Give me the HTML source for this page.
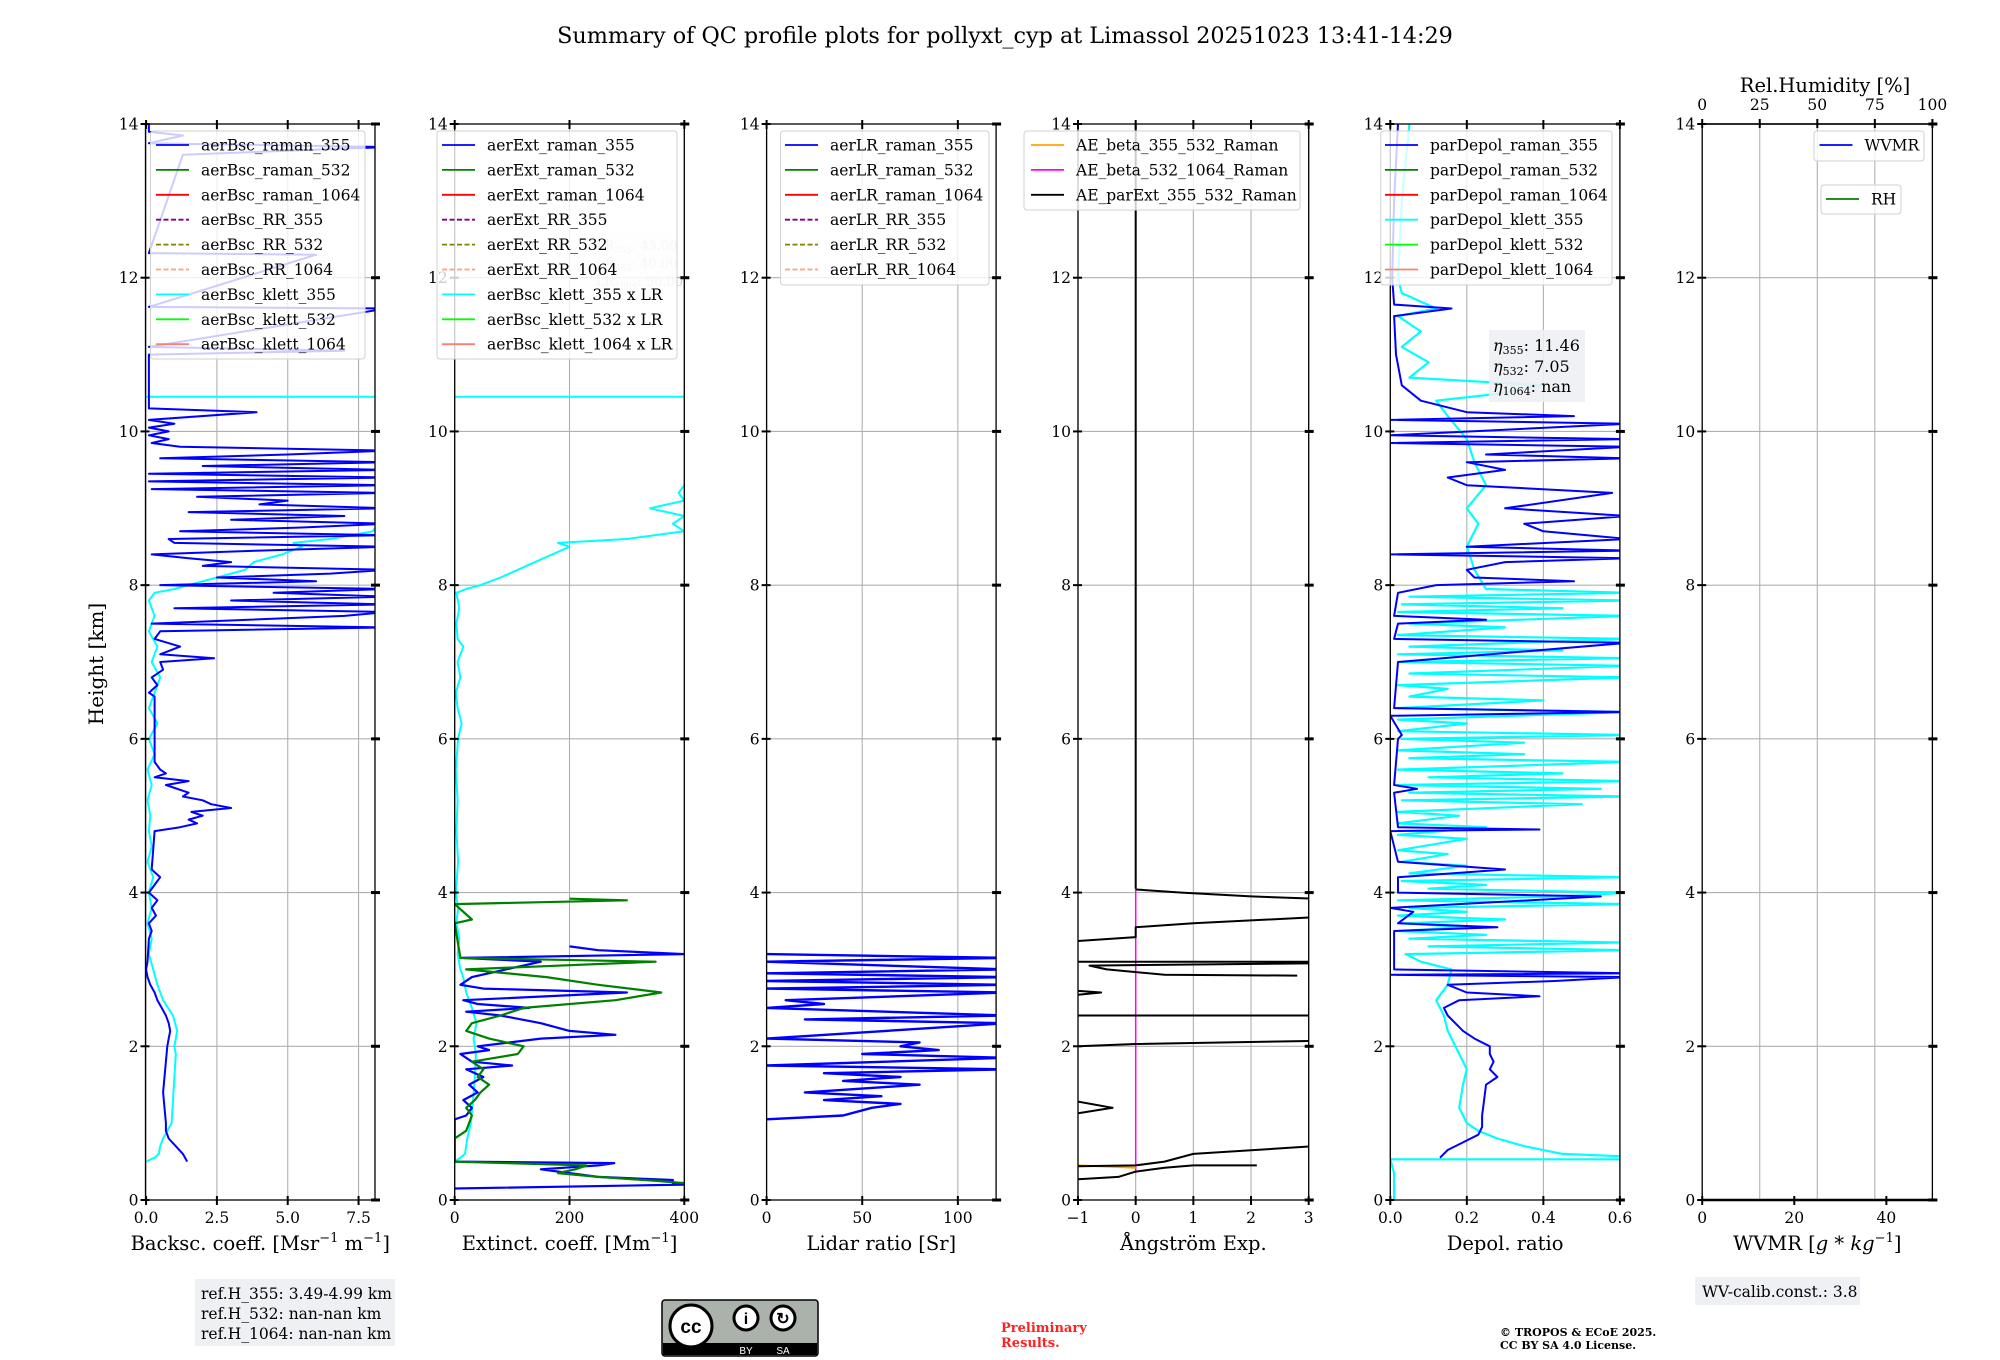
<!DOCTYPE html>
<html><head><meta charset="utf-8"><style>
html,body{margin:0;padding:0;background:#fff}
svg{display:block;font-family:"DejaVu Serif","Liberation Serif",serif}
</style></head><body>
<svg id="fig" width="2000" height="1360" viewBox="0 0 2000 1360" xmlns="http://www.w3.org/2000/svg">
<text x="1005" y="43" font-size="22.3" text-anchor="middle">Summary of QC profile plots for pollyxt_cyp at Limassol 20251023 13:41-14:29</text>
<text transform="translate(103,664) rotate(-90)" font-size="20" text-anchor="middle">Height [km]</text>
<g>
<rect x="195" y="1279" width="200" height="67" fill="#eef0f4"/>
<text x="201" y="1299" font-size="15.5">ref.H_355: 3.49-4.99 km</text>
<text x="201" y="1319" font-size="15.5">ref.H_532: nan-nan km</text>
<text x="201" y="1339" font-size="15.5">ref.H_1064: nan-nan km</text>
</g>
<g>
<rect x="662" y="1300" width="156" height="56" rx="3" fill="#aab2ab" stroke="#000" stroke-width="1.5"/>
<rect x="663" y="1343" width="154" height="12" fill="#000"/>
<circle cx="691" cy="1326" r="21" fill="#fff" stroke="#000" stroke-width="3"/>
<text x="691" y="1333" font-size="19" font-weight="bold" text-anchor="middle" font-family="Liberation Sans,sans-serif">cc</text>
<circle cx="746" cy="1318" r="12" fill="#fff" stroke="#000" stroke-width="3"/>
<circle cx="783" cy="1318" r="12" fill="#fff" stroke="#000" stroke-width="3"/>
<text x="746" y="1324" font-size="16" font-weight="bold" text-anchor="middle" font-family="Liberation Sans,sans-serif">i</text>
<text x="783" y="1324" font-size="16" font-weight="bold" text-anchor="middle" font-family="Liberation Sans,sans-serif">↻</text>
<text x="746" y="1354" font-size="10" fill="#fff" text-anchor="middle" font-family="Liberation Sans,sans-serif">BY</text>
<text x="783" y="1354" font-size="10" fill="#fff" text-anchor="middle" font-family="Liberation Sans,sans-serif">SA</text>
</g>
<g fill="#ff2020" font-size="13" font-weight="bold">
<text x="1001" y="1332">Preliminary</text><text x="1001" y="1347">Results.</text>
</g>
<g font-size="11" font-weight="bold">
<text x="1500" y="1336">© TROPOS &amp; ECoE 2025.</text><text x="1500" y="1349">CC BY SA 4.0 License.</text>
</g>
<g>
<rect x="1695" y="1277" width="165" height="28" fill="#eef0f4"/>
<text x="1702" y="1297" font-size="15.5">WV-calib.const.: 3.8</text>
</g>
</svg>
<script>
// ---------- data ----------
const heightTicks=[0,2,4,6,8,10,12,14];
const p1Ticks=[0,2.5,5,7.5]; const p1TickLabels=["0.0","2.5","5.0","7.5"];
const p2Ticks=[0,200,400]; const p2TickLabels=["0","200","400"];
const p3Ticks=[0,50,100]; const p3TickLabels=["0","50","100"];
const p4Ticks=[-1,0,1,2,3]; const p4TickLabels=["−1","0","1","2","3"];
const p5Ticks=[0,0.2,0.4,0.6]; const p5TickLabels=["0.0","0.2","0.4","0.6"];
const p6Ticks=[0,20,40]; const p6TickLabels=["0","20","40"];
const rhTicks=[0,25,50,75,100]; const rhTickLabels=["0","25","50","75","100"];

const bscR355H=[0.5,0.6,0.7,0.8,0.9,1.0,1.2,1.4,1.6,1.8,2.0,2.1,2.2,2.3,2.4,2.5,2.6,2.7,2.8,2.9,3.0,3.1,3.4,3.5,3.6,3.7,3.8,3.9,4.0,4.1,4.2,4.3,4.8,4.85,4.9,4.95,5.0,5.05,5.1,5.15,5.2,5.25,5.3,5.4,5.45,5.5,5.55,5.6,5.7,6.55,6.6,6.7,6.8,6.9,7.0,7.05,7.1,7.2,7.3,7.4,7.45,7.5,7.6,7.65,7.7,7.75,7.8,7.85,7.9,7.95,8.0,8.05,8.1,8.15,8.2,8.25,8.3,8.35,8.4,8.45,8.5,8.55,8.6,8.65,8.7,8.75,8.8,8.85,8.9,8.95,9.0,9.05,9.1,9.15,9.2,9.25,9.3,9.35,9.4,9.45,9.5,9.55,9.6,9.65,9.7,9.75,9.8,9.85,9.9,9.95,10.0,10.05,10.1,10.15,10.25,10.3,11.0,11.05,11.1,11.6,11.62,12.3,12.32,13.6,13.7,13.75,13.85,13.9,14.0];
const bscR355V=[1.45,1.3,1.05,0.8,0.7,0.7,0.65,0.6,0.65,0.7,0.75,0.8,0.85,0.8,0.7,0.55,0.4,0.3,0.15,0.05,0.0,0.05,0.1,0.2,0.1,0.35,0.2,0.4,0.1,0.3,0.5,0.2,0.3,1.2,1.8,1.5,2.0,1.6,3.0,2.3,2.0,1.3,1.5,0.7,1.5,0.3,0.7,0.5,0.3,0.3,0.1,0.4,0.2,0.6,0.5,2.4,0.5,1.2,0.3,0.5,8.5,0.2,7.0,8.5,1.0,8.5,3.0,8.5,4.5,8.5,0.5,6.0,2.5,6.5,8.5,2.0,3.0,1.5,0.2,4.0,8.5,1.0,0.8,8.5,1.2,5.5,8.5,3.0,7.0,1.5,8.5,4.0,5.0,1.8,8.5,0.2,8.5,0.1,8.5,0.1,8.5,2.0,8.5,0.5,5.0,8.5,1.2,0.2,0.8,0.1,0.8,0.1,1.0,0.1,3.9,0.1,0.1,7.0,0.1,8.5,0.1,6.0,0.1,1.3,8.5,0.1,1.3,0.1,0.1];
const bscK355H=[0.5,0.55,0.6,0.7,0.8,0.9,1.0,1.3,1.6,1.9,2.0,2.2,2.4,2.6,2.8,3.0,3.2,3.4,3.6,3.8,4.0,4.2,4.4,4.6,4.8,5.0,5.2,5.4,5.6,5.8,6.0,6.2,6.4,6.6,6.8,7.0,7.2,7.4,7.6,7.8,7.9,7.95,8.0,8.1,8.2,8.3,8.4,8.5,8.55,8.6,8.7,9.0,9.5,10.45,10.45];
const bscK355V=[0.0,0.3,0.45,0.5,0.6,0.75,0.9,0.95,1.0,1.05,1.0,1.1,0.95,0.6,0.4,0.25,0.1,0.2,0.05,0.2,0.1,0.25,0.05,0.2,0.1,0.15,0.05,0.2,0.05,0.3,0.1,0.4,0.1,0.3,0.5,0.2,0.4,0.1,0.3,0.1,0.3,1.0,1.5,2.5,3.5,3.8,4.8,5.5,5.2,6.5,8.0,8.6,8.6,9.0,-0.1];

const extKH=[0.5,0.55,0.6,0.8,1.0,1.3,1.6,1.9,2.1,2.3,2.5,2.7,2.9,3.0,3.2,3.4,3.6,3.8,4.0,4.4,4.8,5.2,5.6,6.0,6.2,6.4,6.6,6.8,7.0,7.2,7.3,7.5,7.7,7.9,7.95,8.0,8.1,8.2,8.3,8.4,8.5,8.55,8.6,8.7,8.8,8.9,9.0,9.1,9.2,9.3,9.4,10.45,10.45];
const extKV=[0,10,18,22,28,32,35,37,33,38,30,20,15,10,5,8,3,6,2,6,3,5,2,6,12,5,2,10,5,15,5,3,8,3,20,45,80,110,140,170,200,180,300,400,380,400,340,400,390,400,440,500,-10];
const extR355H=[0.15,0.2,0.22,0.26,0.3,0.35,0.4,0.45,0.48,0.5,1.05,1.1,1.2,1.3,1.4,1.5,1.6,1.7,1.75,1.8,1.9,1.95,2.0,2.1,2.15,2.2,2.3,2.4,2.45,2.5,2.55,2.6,2.7,2.75,2.8,2.9,3.1,3.15,3.2,3.25,3.3];
const extR355V=[0,400,380,380,250,200,150,250,278,0,0,20,30,15,40,25,50,20,100,30,10,60,40,150,280,200,150,80,20,130,40,15,300,50,10,30,150,10,400,250,200];
const extR532H=[0.2,0.22,0.25,0.3,0.35,0.4,0.45,0.5,0.8,0.9,1.0,1.1,1.2,1.3,1.4,1.5,1.6,1.7,1.8,1.9,2.0,2.1,2.2,2.3,2.4,2.5,2.6,2.7,2.8,2.9,3.0,3.1,3.15,3.6,3.65,3.85,3.9,3.92];
const extR532V=[400,400,350,250,180,210,230,0,0,20,25,30,20,35,45,60,40,50,30,110,120,60,20,30,80,120,280,360,250,160,20,350,10,0,30,0,300,200];

const lr355H=[1.05,1.1,1.2,1.25,1.3,1.35,1.4,1.45,1.5,1.55,1.6,1.65,1.7,1.75,1.85,1.9,1.95,2.0,2.05,2.1,2.3,2.35,2.4,2.5,2.55,2.6,2.7,2.75,2.8,2.85,2.9,2.95,3.0,3.1,3.15,3.2];
const lr355V=[0,40,55,70,30,60,20,50,80,40,70,30,125,0,125,50,90,70,80,0,125,20,125,0,30,10,125,0,125,0,125,0,125,0,125,0];

const aeExtH=[4.05,14,null,4.04,4.0,3.95,3.92,null,3.37,3.42,3.55,3.6,3.68,null,3.1,3.1,3.08,3.05,3.0,2.93,2.92,null,2.72,2.7,2.67,null,2.4,2.4,null,2.0,2.03,2.07,null,1.28,1.2,1.13,null,0.44,0.45,0.5,0.6,0.7,null,0.27,0.3,0.37,0.42,0.45,0.45];
const aeExtV=[0,0,null,0,0.8,2,3.1,null,-1,0,0,1,3.1,null,-1,3.1,3.1,-0.8,-0.5,0.5,2.8,null,-1,-0.6,-1,null,-1,3.1,null,-1,0,3.1,null,-1,-0.4,-1,null,-1,0,0.5,1,3.1,null,-1,-0.3,0,0.5,1,2.1];
const aeB532H=[0.35,4.05];
const aeB532V=[0,0];
const aeB355H=[0.45,0.42];
const aeB355V=[-1,0];

const dep355H=[0.55,0.65,0.75,0.85,0.95,1.1,1.3,1.5,1.6,1.7,1.8,1.9,2.0,2.1,2.2,2.4,2.5,2.6,2.65,2.7,2.8,2.85,2.9,2.93,2.95,3.0,3.5,3.55,3.6,3.75,3.8,3.95,4.0,4.2,4.3,4.4,4.8,4.82,4.85,5.3,5.35,5.4,6.0,6.05,6.3,6.35,6.4,7.0,7.25,7.3,7.5,7.55,7.6,7.9,8.0,8.05,8.1,8.2,8.3,8.35,8.4,8.45,8.5,8.6,8.7,8.8,8.9,9.0,9.2,9.3,9.4,9.5,9.6,9.65,9.7,9.8,9.85,9.9,9.95,10.1,10.15,10.2,10.25,10.4,10.6,11.0,11.5,11.6,11.65,12.0,13.0,14.0];
const dep355V=[0.13,0.15,0.19,0.23,0.24,0.24,0.245,0.25,0.28,0.26,0.27,0.26,0.26,0.22,0.19,0.15,0.14,0.18,0.39,0.2,0.15,0.43,0.62,0.0,0.62,0.01,0.01,0.28,0.02,0.06,0.0,0.55,0.02,0.02,0.3,0.02,0.0,0.39,0.02,0.01,0.07,0.01,0.02,0.03,0.0,0.62,0.01,0.02,0.62,0.01,0.02,0.25,0.01,0.02,0.12,0.48,0.22,0.2,0.3,0.62,0.0,0.62,0.2,0.62,0.4,0.35,0.62,0.3,0.58,0.2,0.15,0.3,0.2,0.62,0.25,0.62,0.0,0.62,0.0,0.62,0.0,0.48,0.2,0.08,0.03,0.015,0.01,0.16,0.01,0.005,0.01,0.02];
const depK355H=[0.0,0.35,0.53,0.53,0.57,0.6,0.7,0.8,0.9,1.0,1.2,1.5,1.7,2.0,2.2,2.4,2.6,2.8,3.0,3.1,3.2,3.25,3.3,3.35,3.4,3.45,3.5,3.55,3.6,3.65,3.7,3.75,3.8,3.85,3.9,3.95,4.0,4.05,4.1,4.15,4.2,4.25,4.35,4.4,4.5,4.55,4.7,4.75,4.85,4.9,5.0,5.05,5.15,5.2,5.25,5.3,5.35,5.4,5.45,5.5,5.55,5.6,5.7,5.75,5.8,5.85,5.95,6.0,6.05,6.1,6.2,6.25,6.35,6.4,6.5,6.55,6.65,6.7,6.8,6.85,6.95,7.0,7.05,7.1,7.15,7.2,7.3,7.35,7.45,7.5,7.6,7.65,7.7,7.75,7.8,7.85,7.9,7.95,8.2,8.5,8.8,9.0,9.3,9.6,9.9,10.2,10.4,10.5,10.6,10.7,10.9,11.1,11.3,11.5,11.6,11.8,12.0,13.0,14.0];
const depK355V=[0.01,0.01,0.0,0.62,0.6,0.45,0.35,0.28,0.23,0.2,0.18,0.19,0.2,0.17,0.15,0.14,0.12,0.15,0.16,0.08,0.04,0.62,0.1,0.6,0.05,0.25,0.02,0.2,0.03,0.3,0.02,0.2,0.05,0.62,0.02,0.45,0.62,0.1,0.25,0.03,0.62,0.05,0.2,0.03,0.15,0.02,0.2,0.02,0.25,0.02,0.18,0.02,0.5,0.03,0.62,0.05,0.55,0.02,0.62,0.1,0.45,0.02,0.62,0.05,0.35,0.02,0.35,0.03,0.62,0.02,0.2,0.02,0.62,0.02,0.4,0.05,0.15,0.02,0.62,0.05,0.62,0.03,0.62,0.02,0.45,0.05,0.62,0.02,0.3,0.05,0.62,0.02,0.45,0.03,0.62,0.05,0.62,0.25,0.22,0.2,0.23,0.2,0.25,0.22,0.2,0.15,0.12,0.3,0.4,0.05,0.1,0.03,0.08,0.02,0.12,0.03,0.02,0.03,0.05];

// ---------- layout ----------
const NS="http://www.w3.org/2000/svg";
const svg=document.getElementById('fig');
const Y0=1200, YTOP=124, HMAX=14;
const yOf=h=>Y0-(h/HMAX)*(Y0-YTOP);
const panels=[
 {x:145.5,w:229.5,min:-0.02,max:8.08,ticks:p1Ticks,labels:p1TickLabels},
 {x:454.7,w:229.6,min:0,max:400,ticks:p2Ticks,labels:p2TickLabels},
 {x:766.6,w:229.5,min:0,max:120,ticks:p3Ticks,labels:p3TickLabels},
 {x:1078,w:230.7,min:-1,max:3,ticks:p4Ticks,labels:p4TickLabels},
 {x:1390.3,w:229.6,min:0,max:0.6,ticks:p5Ticks,labels:p5TickLabels},
 {x:1702.2,w:230.2,min:0,max:50,ticks:p6Ticks,labels:p6TickLabels}
];
function mk(tag,attrs,parent){const e=document.createElementNS(NS,tag);for(const k in attrs)e.setAttribute(k,attrs[k]);(parent||svg).appendChild(e);return e;}
function xOf(p,v){return p.x+(v-p.min)/(p.max-p.min)*p.w;}

panels.forEach((p,i)=>{
 const g=mk('g',{});
 
 
 const cp=mk('clipPath',{id:'clip'+i},g);
 mk('rect',{x:p.x,y:YTOP,width:p.w,height:Y0-YTOP},cp);
 heightTicks.forEach(h=>{const l=mk('line',{x1:p.x,x2:p.x+p.w,y1:yOf(h),y2:yOf(h),stroke:'#b0b0b0','stroke-width':1.1},g);
  
  });
 const gx=(i===5)?rhTicks.map(v=>xOf({x:p.x,w:p.w,min:0,max:100},v)):p.ticks.map(v=>xOf(p,v));
 gx.forEach(x=>{const l=mk('line',{x1:x,x2:x,y1:YTOP,y2:Y0,stroke:'#b0b0b0','stroke-width':1.1},g);
  
  });
 p.g=mk('g',{'clip-path':'url(#clip'+i+')'},g);
 p.frame=g;
});

function series(pi,H,V,color,width,name){
 const p=panels[pi];let d='',pen=false;
 for(let k=0;k<H.length;k++){
  if(H[k]===null||V[k]===null){pen=false;continue;}
  d+=(pen?'L':'M')+xOf(p,V[k]).toFixed(1)+','+yOf(H[k]).toFixed(1);pen=true;
 }
 const e=mk('path',{d:d,fill:'none',stroke:color,'stroke-width':width,'stroke-linejoin':'round'},p.g);
 
 
}
series(0,bscK355H,bscK355V,'#00ffff',2,'aerbsc-klett-355-line');
series(0,bscR355H,bscR355V,'#0000ff',2,'aerbsc-raman-355-line');
series(1,extKH,extKV,'#00ffff',2,'aerbsc-klett-355-x-lr-line');
series(1,extR355H,extR355V,'#0000ff',2.2,'aerext-raman-355-line');
series(1,extR532H,extR532V,'#008000',2.2,'aerext-raman-532-line');
series(2,lr355H,lr355V,'#0000ff',2.4,'aerlr-raman-355-line');
series(3,aeB532H,aeB532V,'#ff00ff',1.5,'ae-beta-532-1064-line');
series(3,aeB355H,aeB355V,'#ffa500',2,'ae-beta-355-532-line');
series(3,aeExtH,aeExtV,'#000000',2,'ae-parext-355-532-line');
series(4,depK355H,depK355V,'#00ffff',2.2,'pardepol-klett-355-line');
series(4,dep355H,dep355V,'#0000ff',2,'pardepol-raman-355-line');

const xLabels=['Backsc. coeff. [Msr<tspan dy="-8" font-size="13">−1</tspan><tspan dy="8"> m</tspan><tspan dy="-8" font-size="13">−1</tspan><tspan dy="8">]</tspan>',
 'Extinct. coeff. [Mm<tspan dy="-8" font-size="13">−1</tspan><tspan dy="8">]</tspan>',
 'Lidar ratio [Sr]','Ångström Exp.','Depol. ratio',
 'WVMR [<tspan font-style="italic">g</tspan> * <tspan font-style="italic">kg</tspan><tspan dy="-8" font-size="13">−1</tspan><tspan dy="8">]</tspan>'];
const xNames=['backscatter-axis-title','extinction-axis-title','lidar-ratio-axis-title','angstrom-axis-title','depol-axis-title','wvmr-axis-title'];
panels.forEach((p,i)=>{
 const g=p.frame;
 const r=mk('rect',{x:p.x,y:YTOP,width:p.w,height:Y0-YTOP,fill:'none',stroke:'#000','stroke-width':1.3},g);
 
 
 heightTicks.forEach(h=>{
  const y=yOf(h);
  mk('line',{x1:p.x-5,x2:p.x+4,y1:y,y2:y,stroke:'#000','stroke-width':2},g);
  mk('line',{x1:p.x+p.w-4,x2:p.x+p.w+5,y1:y,y2:y,stroke:'#000','stroke-width':3},g);
  const t=mk('text',{x:p.x-7,y:y+5.5,'font-size':15.5,'text-anchor':'end'},g);
  t.textContent=h;
  
  
 });
 p.ticks.forEach((v,k)=>{
  const x=xOf(p,v);
  mk('line',{x1:x,x2:x,y1:Y0-4,y2:Y0+5,stroke:'#000','stroke-width':2},g);
  if(i<5) mk('line',{x1:x,x2:x,y1:YTOP-4,y2:YTOP+5,stroke:'#000','stroke-width':2},g);
  const t=mk('text',{x:x,y:Y0+23,'font-size':15.5,'text-anchor':'middle'},g);
  t.textContent=p.labels[k];
  
  
 });
 const lab=mk('text',{x:p.x+p.w/2,y:1250,'font-size':19.5,'text-anchor':'middle'},g);
 lab.innerHTML=xLabels[i];
 
 
});
{const p=panels[5];const q={x:p.x,w:p.w,min:0,max:100};
 mk('line',{x1:p.x,x2:p.x+p.w,y1:YTOP,y2:YTOP,stroke:'#000','stroke-width':1.5});
 mk('line',{x1:p.x,x2:p.x+p.w,y1:Y0,y2:Y0,stroke:'#000','stroke-width':2.5});
 rhTicks.forEach((v,k)=>{const x=xOf(q,v);
  mk('line',{x1:x,x2:x,y1:YTOP-5,y2:YTOP+4,stroke:'#000','stroke-width':2});
  const t=mk('text',{x:x,y:110,'font-size':15.5,'text-anchor':'middle'});
  t.textContent=rhTickLabels[k];
  
  });
 const t=mk('text',{x:1825,y:92,'font-size':19.5,'text-anchor':'middle'});
 t.textContent='Rel.Humidity [%]';
 
 
}
{const g=mk('g',{opacity:0.35,'font-size':13,fill:'#777'});
 
 
 mk('rect',{x:593,y:234,width:83,height:53,fill:'#eef0f4'},g);
 [['LR','355',': 45.00',250],['LR','532',': 40.00',268],['LR','1064',': 50.00',286]].forEach(a=>{
  const t=mk('text',{x:596,y:a[3]},g);t.innerHTML=a[0]+'<tspan font-size="9" dy="3">'+a[1]+'</tspan><tspan dy="-3">'+a[2]+'</tspan>';});
}
function legend(x,y,w,h,lx,labels,colors,dashes,name){
 const g=mk('g',{});
 
 
 mk('rect',{x:x,y:y,width:w,height:h,rx:3,fill:'rgba(255,255,255,0.8)',stroke:'#d0d0d0','stroke-width':1},g);
 labels.forEach((lb,k)=>{
  const yy=y+14+k*24.9;
  const l=mk('line',{x1:lx,x2:lx+33,y1:yy,y2:yy,stroke:colors[k],'stroke-width':1.8},g);
  if(dashes[k]) l.setAttribute('stroke-dasharray','5,2.5');
  const t=mk('text',{x:lx+45,y:yy+5.5,'font-size':15.5},g);
  t.textContent=lb;
  
  
 });
}
const cols9=['#0000ff','#008000','#ff0000','#800080','#808000','#ffa07a','#00ffff','#00ff00','#fa8072'];
const dash9=[0,0,0,1,1,1,0,0,0];
legend(150.5,131,214.5,228,156,['aerBsc_raman_355','aerBsc_raman_532','aerBsc_raman_1064','aerBsc_RR_355','aerBsc_RR_532','aerBsc_RR_1064','aerBsc_klett_355','aerBsc_klett_532','aerBsc_klett_1064'],cols9,dash9,'backscatter-legend');
legend(437,131,240,228,442,['aerExt_raman_355','aerExt_raman_532','aerExt_raman_1064','aerExt_RR_355','aerExt_RR_532','aerExt_RR_1064','aerBsc_klett_355 x LR','aerBsc_klett_532 x LR','aerBsc_klett_1064 x LR'],cols9,dash9,'extinction-legend');
legend(780.6,131,208.4,154,785,['aerLR_raman_355','aerLR_raman_532','aerLR_raman_1064','aerLR_RR_355','aerLR_RR_532','aerLR_RR_1064'],cols9.slice(0,6),dash9.slice(0,6),'lidar-ratio-legend');
legend(1024,131,276,79,1031,['AE_beta_355_532_Raman','AE_beta_532_1064_Raman','AE_parExt_355_532_Raman'],['#ffa500','#ff00ff','#000000'],[0,0,0],'angstrom-legend');
legend(1380.7,131,231.3,154,1385,['parDepol_raman_355','parDepol_raman_532','parDepol_raman_1064','parDepol_klett_355','parDepol_klett_532','parDepol_klett_1064'],['#0000ff','#008000','#ff0000','#00ffff','#00ff00','#fa8072'],[0,0,0,0,0,0],'depol-legend');
legend(1814,131,110,30,1819.5,['WVMR'],['#0000ff'],[0],'wvmr-legend');
legend(1821,185,80,29,1826,['RH'],['#008000'],[0],'rh-legend');
{const g=mk('g',{'font-size':16});
 
 
 mk('rect',{x:1489,y:330,width:96,height:72,fill:'#eef0f4',opacity:0.9},g);
 [['355',': 11.46',351],['532',': 7.05',372],['1064',': nan',392]].forEach(a=>{
  const t=mk('text',{x:1493,y:a[2]},g);
  t.innerHTML='<tspan font-style="italic">η</tspan><tspan font-size="11" dy="3">'+a[0]+'</tspan><tspan dy="-3">'+a[1]+'</tspan>';});
}
</script>
</body></html>
